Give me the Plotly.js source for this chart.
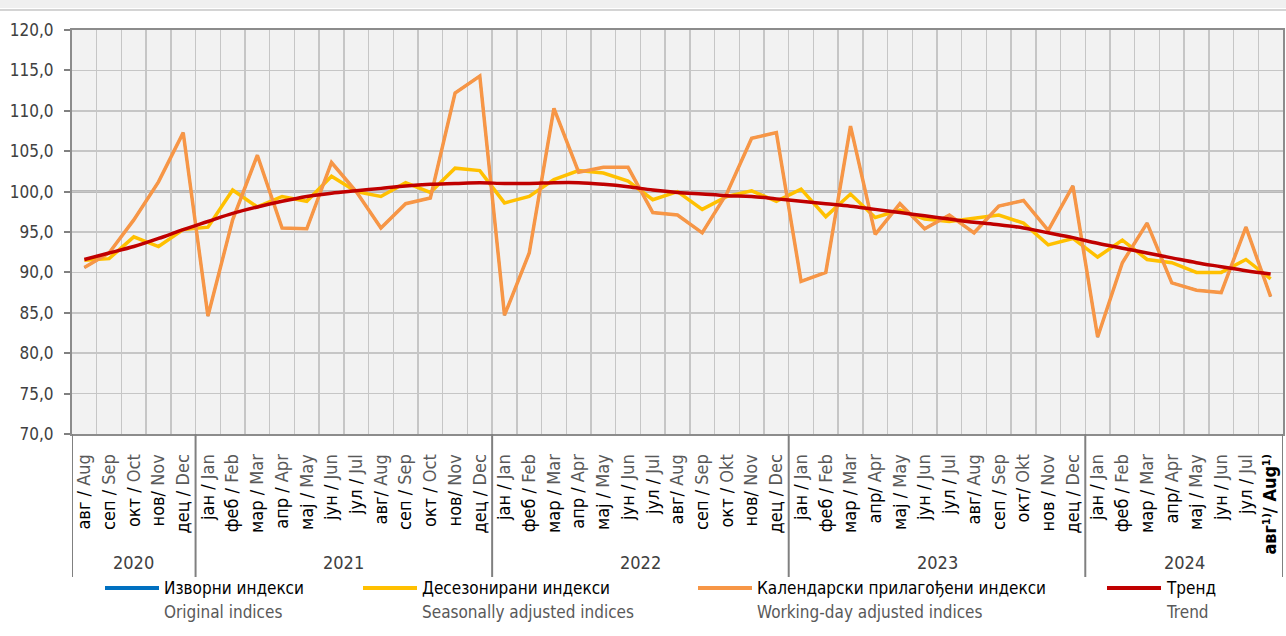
<!DOCTYPE html>
<html>
<head>
<meta charset="utf-8">
<script src="https://cdn.plot.ly/plotly-3.0.1.min.js"></script>
<style>
html,body{margin:0;padding:0;background:#fff;}
#chart{width:1286px;height:636px;}
</style>
</head>
<body>
<div id="chart"></div>
<script>
// ---------- DATA ----------
const monthsCyr = ["авг","сеп","окт","нов","дец",
  "јан","феб","мар","апр","мај","јун","јул","авг","сеп","окт","нов","дец",
  "јан","феб","мар","апр","мај","јун","јул","авг","сеп","окт","нов","дец",
  "јан","феб","мар","апр","мај","јун","јул","авг","сеп","окт","нов","дец",
  "јан","феб","мар","апр","мај","јун","јул","авг¹⁾"];
const monthsEng = ["Aug","Sep","Oct","Nov","Dec",
  "Jan","Feb","Mar","Apr","May","Jun","Jul","Aug","Sep","Oct","Nov","Dec",
  "Jan","Feb","Mar","Apr","May","Jun","Jul","Aug","Sep","Okt","Nov","Dec",
  "Jan","Feb","Mar","Apr","May","Jun","Jul","Aug","Sep","Okt","Nov","Dec",
  "Jan","Feb","Mar","Apr","May","Jun","Jul","Aug¹⁾"];
const separators = [" / "," / "," / ","/ "," / ",
  " / "," / "," / "," / "," / "," / "," / ","/ "," / "," / ","/ "," / ",
  " / "," / "," / "," / "," / "," / "," / ","/ "," / "," / ","/ "," / ",
  " / "," / "," / ","/ "," / "," / "," / ","/ "," / ","/ "," / "," / ",
  " / "," / "," / ","/ "," / "," / "," / ","/ "];
const years = ["2020","2021","2022","2023","2024"];
const monthsPerYear = [5,12,12,12,8];

const original = [90.6,92.4,96.5,101.2,107.3,
  84.6,96.5,104.5,95.5,95.4,103.6,100.0,95.5,98.5,99.2,112.2,114.3,
  84.7,92.4,110.3,102.4,103.0,103.0,97.4,97.1,94.9,99.8,106.6,107.3,
  88.9,90.0,108.1,94.7,98.5,95.4,97.1,94.9,98.2,98.9,95.2,100.7,
  82.0,91.2,96.1,88.7,87.8,87.5,95.6,87.0];
const seasonal = [91.5,91.7,94.4,93.2,95.3,
  95.6,100.2,98.1,99.4,98.8,101.9,100.0,99.4,101.1,99.9,102.9,102.6,
  98.6,99.4,101.5,102.6,102.3,101.3,99.0,100.0,97.8,99.4,100.1,98.8,
  100.3,96.9,99.7,96.8,97.7,96.6,96.3,96.7,97.1,96.1,93.4,94.2,
  91.9,94.0,91.6,91.2,90.0,90.0,91.6,89.2];
const workingDay = [90.6,92.4,96.5,101.2,107.3,
  84.6,96.5,104.5,95.5,95.4,103.6,100.0,95.5,98.5,99.2,112.2,114.3,
  84.7,92.4,110.3,102.4,103.0,103.0,97.4,97.1,94.9,99.8,106.6,107.3,
  88.9,90.0,108.1,94.7,98.5,95.4,97.1,94.9,98.2,98.9,95.2,100.7,
  82.0,91.2,96.1,88.7,87.8,87.5,95.6,87.0];
const trend = [91.6,92.4,93.2,94.2,95.3,
  96.3,97.3,98.1,98.8,99.4,99.8,100.1,100.4,100.7,100.9,101.0,101.1,
  101.0,101.0,101.1,101.1,100.9,100.6,100.2,99.9,99.7,99.5,99.4,99.1,
  98.8,98.5,98.2,97.8,97.4,97.0,96.6,96.2,95.9,95.5,94.9,94.3,
  93.6,93.0,92.4,91.8,91.2,90.7,90.2,89.8];
const legendCyr = ["Изворни индекси","Десезонирани индекси","Календарски прилагођени индекси","Тренд"];
const legendEng = ["Original indices","Seasonally adjusted indices","Working-day adjusted indices","Trend"];

// ---------- STYLE / LAYOUT ----------
const W=1286, H=636, ML=72, MR=3, MT=30, MB=202;
const FONT = '"Liberation Sans Narrow","Arial Narrow","DejaVu Sans Condensed",sans-serif';
const colors = ["#0070C0","#FFC000","#F79646","#C00000"];
const widths = [2.2, 3.5, 3.5, 3.5];
const pw = W-ML-MR, ph = H-MT-MB;
const pxX = p => (p-ML)/pw;
const pxY = p => (H-MB-p)/ph;

const n = original.length;
const xs = original.map((_,i)=>i);
const tickText = xs.map(i=>{
  const last = i===n-1;
  const t = '<span style="color:#000">'+monthsCyr[i]+'</span>'+separators[i]+'<span style="color:#595959">'+monthsEng[i]+'</span>';
  return last ? '<b>'+monthsCyr[i]+separators[i]+monthsEng[i]+'</b>' : t;
});

const series = [original, seasonal, workingDay, trend];
const traces = series.map((s,k)=>({
  x: xs, y: s, type:'scatter', mode:'lines',
  line:{color:colors[k], width:widths[k], shape:(k===3?'spline':'linear')},
  hoverinfo:'skip', showlegend:false
}));

// year boundaries
const bounds = [-0.5];
monthsPerYear.reduce((acc,m)=>{acc+=m; bounds.push(acc-0.5); return acc;},0);

const shapes = [];
// top shadow band
shapes.push({type:'rect', xref:'paper', yref:'paper', x0:pxX(0), x1:pxX(W), y0:pxY(0), y1:pxY(8), fillcolor:'#f0f0f0', line:{width:0}, layer:'below'});
shapes.push({type:'line', xref:'paper', yref:'paper', x0:pxX(0), x1:pxX(W), y0:pxY(10), y1:pxY(10), line:{color:'#d4d4d4', width:2}});
// 100 reference line
shapes.push({type:'line', xref:'paper', yref:'y', x0:0, x1:1, y0:100, y1:100, line:{color:'#808080', width:2}, layer:'below'});
// year separators below axis
bounds.forEach(b=>{
  shapes.push({type:'line', xref:'x', yref:'paper', x0:b, x1:b, y0:0, y1:pxY(577), line:{color:'#808080', width:2}});
});

const annotations = [];
let start=0;
years.forEach((y,k)=>{
  const c = start + (monthsPerYear[k]-1)/2;
  start += monthsPerYear[k];
  annotations.push({xref:'x', yref:'paper', x:c, y:pxY(562), text:y, showarrow:false,
    font:{family:FONT, size:18, color:'#404040'}, xanchor:'center', yanchor:'middle'});
});
// custom legend
const legX = [105, 363, 698, 1107];
legX.forEach((lx,k)=>{
  shapes.push({type:'line', xref:'paper', yref:'paper', x0:pxX(lx), x1:pxX(lx+54), y0:pxY(588), y1:pxY(588), line:{color:colors[k], width:4}});
  annotations.push({xref:'paper', yref:'paper', x:pxX(lx+57), y:pxY(588), text:legendCyr[k], showarrow:false,
    font:{family:FONT, size:17, color:'#000'}, xanchor:'left', yanchor:'middle'});
  annotations.push({xref:'paper', yref:'paper', x:pxX(lx+57), y:pxY(612), text:legendEng[k], showarrow:false,
    font:{family:FONT, size:17, color:'#595959'}, xanchor:'left', yanchor:'middle'});
});

const layout = {
  width:W, height:H,
  margin:{l:ML, r:MR, t:MT, b:MB, pad:0},
  paper_bgcolor:'#ffffff', plot_bgcolor:'#f2f2f2',
  separators:',.',
  font:{family:FONT, color:'#404040'},
  showlegend:false,
  xaxis:{
    range:[-0.5, n-0.5], tickmode:'array', tickvals:xs, ticktext:tickText,
    tickangle:-90, ticks:'', showgrid:false, zeroline:false,
    tickfont:{family:FONT, size:18, color:'#000'},
    ticklabelstandoff:11,
    showline:true, linecolor:'#8c8c8c', linewidth:2, mirror:true,
    minor:{tickmode:'array', tickvals:xs.slice(0,n-1).map(i=>i+0.5), showgrid:true, gridcolor:'#c6c6c6', gridwidth:1.5, ticks:''},
    fixedrange:true
  },
  yaxis:{
    range:[70,120], tickmode:'linear', tick0:70, dtick:5, tickformat:'.1f',
    ticks:'outside', ticklen:6, tickcolor:'#808080', tickwidth:2,
    showgrid:true, gridcolor:'#c6c6c6', gridwidth:1.5, zeroline:false,
    tickfont:{family:FONT, size:17, color:'#404040'},
    ticklabelstandoff:7,
    showline:true, linecolor:'#8c8c8c', linewidth:2, mirror:true,
    fixedrange:true
  },
  shapes:shapes, annotations:annotations
};

Plotly.newPlot('chart', traces, layout, {displayModeBar:false, staticPlot:true});
</script>
</body>
</html>
